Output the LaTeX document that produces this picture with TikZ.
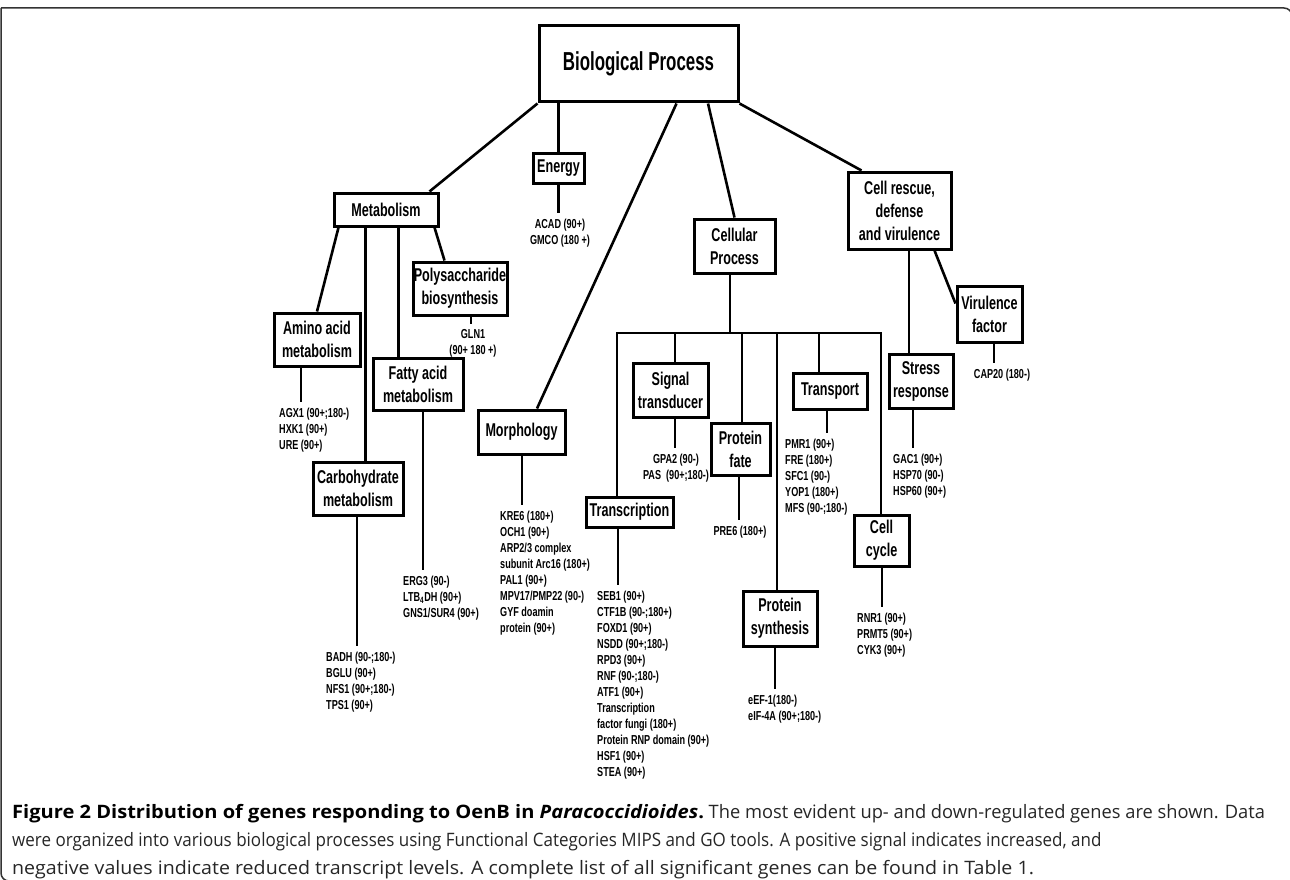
\documentclass[tikz,border=0pt]{standalone}
\usepackage{fontspec}
\setmainfont{Liberation Sans}
\newfontfamily\nar{Liberation Sans}[FakeStretch=0.68]
\newfontfamily\nart{Liberation Sans}[FakeStretch=0.65]
\newfontfamily\narg{Liberation Sans}[FakeStretch=0.70]
\newfontfamily\capf{Open Sans}
\usetikzlibrary{calc}
\begin{document}
\begin{tikzpicture}[x=1pt,y=-1pt,
 box/.style={draw, line width=3pt, inner sep=0pt, align=center, font=\nar\bfseries\fontsize{18.5}{23}\selectfont},
 con/.style={line width=2.6pt},
 gl/.style={inner sep=0pt, outer ysep=6pt, align=left, anchor=north west, font=\narg\bfseries\fontsize{13}{16}\selectfont},
 gc/.style={gl, align=center, anchor=north},
 capline/.style={anchor=base west, inner sep=0pt, text=black!85, font=\capf\fontsize{18.5}{20}\selectfont},
 frame/.style={line width=1.5pt, draw=black!80, rounded corners=8pt}
]
\useasboundingbox (0,0) rectangle (1290,880);
\draw[frame] (1,8) -- (1292,8) -- (1292,900);
\draw[frame] (1,8) -- (1,881) -- (40,881);

% boxes
\node[box, minimum width=199pt, minimum height=76pt, font=\nart\bfseries\fontsize{26}{28}\selectfont] (bio) at (638.5,64) {Biological Process};
\node[box, minimum width=51pt, minimum height=30pt] (energy) at (558.5,168) {Energy};
\node[box, minimum width=104pt, minimum height=33pt] (metab) at (386,209.5) {Metabolism};
\node[box, minimum width=94pt, minimum height=53pt] (poly) at (460,288.5) {Polysaccharide\\biosynthesis};
\node[box, minimum width=86pt, minimum height=53pt] (amino) at (317,339.5) {Amino acid\\metabolism};
\node[box, minimum width=90pt, minimum height=52pt] (fatty) at (418,384) {Fatty acid\\metabolism};
\node[box, minimum width=90pt, minimum height=53pt] (carbo) at (358,488.5) {Carbohydrate\\metabolism};
\node[box, minimum width=87pt, minimum height=44pt] (morph) at (521.5,432) {Morphology};
\node[box, minimum width=81pt, minimum height=54pt] (cellp) at (734.5,246) {Cellular\\Process};
\node[box, minimum width=75pt, minimum height=54pt] (signal) at (670.5,390) {Signal\\transducer};
\node[box, minimum width=59pt, minimum height=52pt] (pfate) at (740.5,449) {Protein\\fate};
\node[box, minimum width=74pt, minimum height=55pt] (psynth) at (780,618.5) {Protein\\synthesis};
\node[box, minimum width=74pt, minimum height=36pt] (transport) at (830,391) {Transport};
\node[box, minimum width=87pt, minimum height=30pt] (transcr) at (629.5,512) {Transcription};
\node[box, minimum width=55pt, minimum height=51pt] (cellcyc) at (881.5,540.5) {Cell\\cycle};
\node[box, minimum width=103pt, minimum height=77pt] (rescue) at (899.5,210.5) {Cell rescue,\\defense\\and virulence};
\node[box, minimum width=64pt, minimum height=54pt] (stress) at (921,381) {Stress\\response};
\node[box, minimum width=65pt, minimum height=56pt] (viru) at (989.5,314) {Virulence\\factor};

% gene lists
\node[gc] (energyg) at (560,212.7) {ACAD (90+)\\GMCO (180 +)};
\node[gc] (polyg) at (473,323.7) {GLN1\\(90+ 180 +)};
\node[gl] (aminog) at (279,401.7) {AGX1 (90+;180-)\\HXK1 (90+)\\URE (90+)};
\node[gl] (fattyg) at (403,569.7) {ERG3 (90-)\\LTB\textsubscript{4}DH (90+)\\GNS1/SUR4 (90+)};
\node[gl] (carbog) at (326,645.7) {BADH (90-;180-)\\BGLU (90+)\\NFS1 (90+;180-)\\TPS1 (90+)};
\node[gl] (morphg) at (500,504.7) {KRE6 (180+)\\OCH1 (90+)\\ARP2/3 complex\\subunit Arc16 (180+)\\PAL1 (90+)\\MPV17/PMP22 (90-)\\GYF doamin\\protein (90+)};
\node[gl] (transcrg) at (597,584.7) {SEB1 (90+)\\CTF1B (90-;180+)\\FOXD1 (90+)\\NSDD (90+;180-)\\RPD3 (90+)\\RNF (90-;180-)\\ATF1 (90+)\\Transcription\\factor fungi (180+)\\Protein RNP domain (90+)\\HSF1 (90+)\\STEA (90+)};
\node[gc] (signalg) at (676,447.7) {GPA2 (90-)\\PAS\ \ (90+;180-)};
\node[gc] (pfateg) at (740,519.7) {PRE6 (180+)};
\node[gl] (psynthg) at (748,688.7) {eEF-1(180-)\\eIF-4A (90+;180-)};
\node[gl] (transportg) at (785,432.7) {PMR1 (90+)\\FRE (180+)\\SFC1 (90-)\\YOP1 (180+)\\MFS (90-;180-)};
\node[gl] (cellcycg) at (857,606.7) {RNR1 (90+)\\PRMT5 (90+)\\CYK3 (90+)};
\node[gl] (stressg) at (893,447.7) {GAC1 (90+)\\HSP70 (90-)\\HSP60 (90+)};
\node[gc] (virug) at (1002,362.7) {CAP20 (180-)};

% top-level connectors
\draw[con] (bio.south west) -- ([xshift=-10pt]metab.north east);
\draw[con] (energy.north) -- (energy.north |- bio.south);
\draw[con] ([xshift=139pt]bio.south west) -- ([xshift=15.5pt]morph.north);
\draw[con] ([xshift=170.5pt]bio.south west) -- (cellp.north);
\draw[con] (bio.south east) -- ([xshift=15pt]rescue.north west);

% metabolism
\draw[con] ([xshift=6pt]metab.south west) -- (amino.north);
\draw[con] ([xshift=33pt]metab.south west) -- ([xshift=33pt]metab.south west |- carbo.north);
\draw[con] ([xshift=66pt]metab.south west) -- ([xshift=66pt]metab.south west |- fatty.north);
\draw[con] ([xshift=-5pt]metab.south east) -- ([xshift=33pt]poly.north west);

% cellular process bus
\coordinate (bus) at (730,333);
\coordinate (busL) at (617,333);
\coordinate (busR) at (881,333);
\draw[con] ([xshift=-4.5pt]cellp.south) -- (bus);
\draw[con] (transcr.north -| busL) -- (busL) -- (busR) -- (cellcyc.north -| busR);
\draw[con] ([xshift=4.5pt]signal.north) -- ([xshift=4.5pt]signal.north |- bus);
\draw[con] ([xshift=1.5pt]pfate.north) -- ([xshift=1.5pt]pfate.north |- bus);
\draw[con] ([xshift=-3pt]psynth.north) -- ([xshift=-3pt]psynth.north |- bus);
\draw[con] ([xshift=-11pt]transport.north) -- ([xshift=-11pt]transport.north |- bus);

% rescue
\draw[con] ([xshift=9.5pt]rescue.south) -- ([xshift=9.5pt]rescue.south |- stress.north);
\draw[con] ([xshift=-18pt]rescue.south east) -- ([yshift=-19pt]viru.north west);

% leaf connectors
\draw[con] (energy.south) -- (energy.south |- energyg.north);
\draw[con] ([xshift=11pt]poly.south) -- ([xshift=11pt]poly.south |- polyg.north);
\draw[con] ([xshift=-16pt]amino.south) -- ([xshift=-16pt]amino.south |- aminog.north);
\draw[con] ([xshift=5pt]fatty.south) -- ([xshift=5pt]fatty.south |- fattyg.north);
\draw[con] ([xshift=-1pt]carbo.south) -- ([xshift=-1pt]carbo.south |- carbog.north);
\draw[con] ([xshift=0.5pt]morph.south) -- ([xshift=0.5pt]morph.south |- morphg.north);
\draw[con] ([xshift=-11.5pt]transcr.south) -- ([xshift=-11.5pt]transcr.south |- transcrg.north);
\draw[con] ([xshift=4.5pt]signal.south) -- ([xshift=4.5pt]signal.south |- signalg.north);
\draw[con] ([xshift=-1.5pt]pfate.south) -- ([xshift=-1.5pt]pfate.south |- pfateg.north);
\draw[con] ([xshift=-5pt]psynth.south) -- ([xshift=-5pt]psynth.south |- psynthg.north);
\draw[con] ([xshift=-3pt]transport.south) -- ([xshift=-3pt]transport.south |- transportg.north);
\draw[con] ([xshift=0.5pt]cellcyc.south) -- ([xshift=0.5pt]cellcyc.south |- cellcycg.north);
\draw[con] ([xshift=-8pt]stress.south) -- ([xshift=-8pt]stress.south |- stressg.north);
\draw[con] ([xshift=4.5pt]viru.south) -- ([xshift=4.5pt]viru.south |- virug.north);

% caption
\node[capline] (cap1) at (12,818) {\scalebox{1.085}[1]{\textbf{\color{black}Figure 2 Distribution of genes responding to OenB in \textit{Paracoccidioides}.}}\scalebox{0.988}[1]{\ The most evident up- and down-regulated genes are shown. Data}};
\node[capline] (cap2) at (12,846) {\scalebox{0.919}[1]{were organized into various biological processes using Functional Categories MIPS and GO tools. A positive signal indicates increased, and}};
\node[capline] (cap3) at (12,874) {\scalebox{1.06}[1]{negative values indicate reduced transcript levels. A complete list of all significant genes can be found in Table 1.}};
\end{tikzpicture}
\end{document}
